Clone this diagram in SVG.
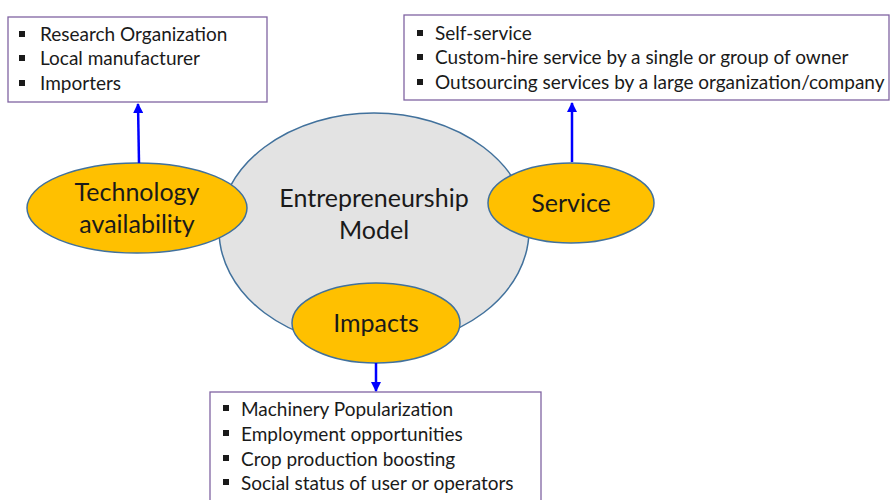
<svg xmlns="http://www.w3.org/2000/svg" width="893" height="500" viewBox="0 0 893 500">
  <defs>
    <marker id="arrow" viewBox="0 0 10 10" refX="9" refY="5" markerWidth="4" markerHeight="4" orient="auto">
      <path d="M0,0 L10,5 L0,10 z" fill="#0000FF"/>
    </marker>
  </defs>
  <style>
    .box { fill: #FFFFFF; stroke: #8064A2; stroke-width: 1.3; }
    .core { fill: #E3E3E3; stroke: #41719C; stroke-width: 1.5; }
    .sat { fill: #FFC000; stroke: #41719C; stroke-width: 1.5; }
    .lbl { font-family: Lato, "Liberation Sans", sans-serif; fill: #1A1A1A; text-anchor: middle; }
    .item { font-family: Lato, "Liberation Sans", sans-serif; font-size: 19px; fill: #1A1A1A; }
    .bullet { fill: #1A1A1A; }
    .conn { stroke: #0000FF; stroke-width: 2.5; fill: none; marker-end: url(#arrow); }
  </style>
  <rect width="893" height="500" fill="#FFFFFF"/>

  <!-- central model -->
  <g id="model">
    <ellipse class="core" cx="374" cy="230" rx="155" ry="117"/>
    <text class="lbl" font-size="25" x="374" y="207">Entrepreneurship</text>
    <text class="lbl" font-size="25" x="374" y="239">Model</text>
  </g>

  <g id="technology">
    <ellipse class="sat" cx="137" cy="208" rx="110" ry="45"/>
    <text class="lbl" font-size="25" x="137" y="201">Technology</text>
    <text class="lbl" font-size="25" x="137" y="233">availability</text>
  </g>

  <g id="service">
    <ellipse class="sat" cx="571" cy="203" rx="83" ry="40"/>
    <text class="lbl" font-size="25" x="571" y="212">Service</text>
  </g>

  <g id="impacts">
    <ellipse class="sat" cx="376" cy="323" rx="84" ry="40"/>
    <text class="lbl" font-size="25" x="376" y="332">Impacts</text>
  </g>

  <!-- suppliers list -->
  <g id="suppliers">
    <rect class="box" x="8" y="17" width="259" height="85"/>
    <rect class="bullet" x="19" y="31" width="6" height="6"/>
    <rect class="bullet" x="19" y="55" width="6" height="6"/>
    <rect class="bullet" x="19" y="80" width="6" height="6"/>
    <text class="item" x="40" y="41">Research Organization</text>
    <text class="item" x="40" y="65">Local manufacturer</text>
    <text class="item" x="40" y="90">Importers</text>
  </g>

  <!-- service modes list -->
  <g id="service-modes">
    <rect class="box" x="404" y="15" width="485" height="85"/>
    <rect class="bullet" x="417" y="30" width="6" height="6"/>
    <rect class="bullet" x="417" y="54" width="6" height="6"/>
    <rect class="bullet" x="417" y="79" width="6" height="6"/>
    <text class="item" x="435" y="40">Self-service</text>
    <text class="item" x="435" y="64">Custom-hire service by a single or group of owner</text>
    <text class="item" x="435" y="89">Outsourcing services by a large organization/company</text>
  </g>

  <!-- impacts list -->
  <g id="impact-list">
    <rect class="box" x="210" y="392" width="331" height="115"/>
    <rect class="bullet" x="223" y="405" width="6" height="6"/>
    <rect class="bullet" x="223" y="430" width="6" height="6"/>
    <rect class="bullet" x="223" y="455" width="6" height="6"/>
    <rect class="bullet" x="223" y="479" width="6" height="6"/>
    <text class="item" x="241" y="416">Machinery Popularization</text>
    <text class="item" x="241" y="441">Employment opportunities</text>
    <text class="item" x="241" y="466">Crop production boosting</text>
    <text class="item" x="241" y="490">Social status of user or operators</text>
  </g>

  <!-- connectors -->
  <g id="connectors">
    <line class="conn" x1="139" y1="163" x2="138" y2="104"/>
    <line class="conn" x1="572" y1="162" x2="572" y2="103"/>
    <line class="conn" x1="376" y1="363" x2="376" y2="391"/>
  </g>
</svg>
